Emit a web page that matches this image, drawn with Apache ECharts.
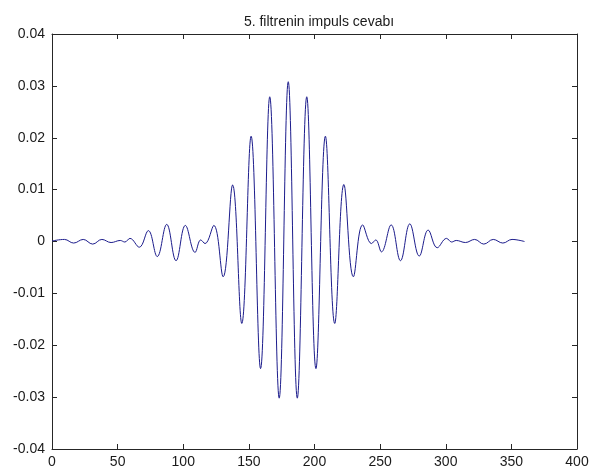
<!DOCTYPE html>
<html>
<head>
<meta charset="utf-8">
<script src="https://cdn.jsdelivr.net/npm/echarts@6/dist/echarts.min.js"></script>
<style>
  html, body { margin: 0; padding: 0; background: #ffffff; }
  #chart { width: 592px; height: 475px; }
</style>
</head>
<body>
<div id="chart"></div>
<script>
// Impulse response of filter 5: sample index vs. amplitude
// (successive peaks and troughs of the response, left to right)
const sampleIndex = [
  0, 9.5, 16.5, 23.8, 31, 38, 45, 52, 55.5, 59.4,
  66.5, 73.4, 80.2, 87.4, 94.5, 101.6, 109, 113.3, 116.6, 123.3,
  130.4, 137.6, 144.6, 151.7, 158.9, 165.9, 173.1, 180, 186.9, 194.1,
  201.1, 208.3, 215.4, 222.4, 229.6, 236.7, 243.4, 246.7, 251, 258.4,
  265.5, 272.6, 279.8, 286.6, 293.5, 300.6, 304.5, 308, 315, 322,
  329, 336.2, 343.5, 350.5, 360
];
const response = [
  0.0001, 0.0004, -0.0003, 0.0004, -0.0005, 0.0004, -0.0002, 0.0002, -0.0001, 0.0006,
  -0.0011, 0.0021, -0.0029, 0.0033, -0.0037, 0.0031, -0.0021, 0.0003, -0.0004, 0.0031,
  -0.0068, 0.0109, -0.0158, 0.0203, -0.0245, 0.0279, -0.0302, 0.0308, -0.0302, 0.0279,
  -0.0245, 0.0203, -0.0158, 0.0110, -0.0068, 0.0032, -0.0004, 0.0003, -0.0020, 0.0032,
  -0.0037, 0.0034, -0.0028, 0.0022, -0.0012, 0.0006, -0.0001, 0.0002, -0.0002, 0.0004,
  -0.0005, 0.0004, -0.0003, 0.0004, 0
];

// Axis ranges and tick steps
const xTicks = { min: 0, max: 400, step: 50 };
const yTicks = { min: -0.04, max: 0.04, step: 0.01 };

const points = sampleIndex.map((x, i) => [x, response[i]]);

const font = "'Liberation Sans', Arial, Helvetica, sans-serif";
const axisColor = '#262626';
const textColor = '#1a1a1a';

const fmtY = v => {
  const r = Math.round(v * 100) / 100;
  return r === 0 ? '0' : String(r);
};

const chart = echarts.init(document.getElementById('chart'), null, { renderer: 'canvas' });

const tickStyle = { show: true, inside: true, length: 5, lineStyle: { color: axisColor, width: 1 } };
const lineStyle = { show: true, onZero: false, lineStyle: { color: axisColor, width: 1 } };

chart.setOption({
  backgroundColor: '#ffffff',
  animation: false,
  title: {
    text: '5. filtrenin impuls cevabı',
    left: 314,
    textAlign: 'center',
    top: 10,
    textStyle: { fontFamily: font, fontSize: 14, fontWeight: 'normal', color: textColor }
  },
  grid: { left: 52, right: 15, top: 34, bottom: 26, containLabel: false, show: false },
  xAxis: [
    {
      type: 'value', position: 'bottom',
      min: xTicks.min, max: xTicks.max, interval: xTicks.step,
      axisLine: lineStyle, axisTick: tickStyle, splitLine: { show: false },
      axisLabel: { fontFamily: font, fontSize: 14, color: textColor, margin: 6 }
    },
    {
      type: 'value', position: 'top',
      min: xTicks.min, max: xTicks.max, interval: xTicks.step,
      axisLine: lineStyle, axisTick: tickStyle, splitLine: { show: false },
      axisLabel: { show: false }
    }
  ],
  yAxis: [
    {
      type: 'value', position: 'left',
      min: yTicks.min, max: yTicks.max, interval: yTicks.step,
      axisLine: lineStyle, axisTick: tickStyle, splitLine: { show: false },
      axisLabel: { fontFamily: font, fontSize: 14, color: textColor, margin: 7, formatter: fmtY }
    },
    {
      type: 'value', position: 'right',
      min: yTicks.min, max: yTicks.max, interval: yTicks.step,
      axisLine: lineStyle, axisTick: tickStyle, splitLine: { show: false },
      axisLabel: { show: false }
    }
  ],
  series: [
    {
      type: 'line',
      data: points,
      xAxisIndex: 0, yAxisIndex: 0,
      smooth: 0.4,
      showSymbol: false,
      lineStyle: { color: '#1c1c8c', width: 1 }
    }
  ]
});
</script>
</body>
</html>
